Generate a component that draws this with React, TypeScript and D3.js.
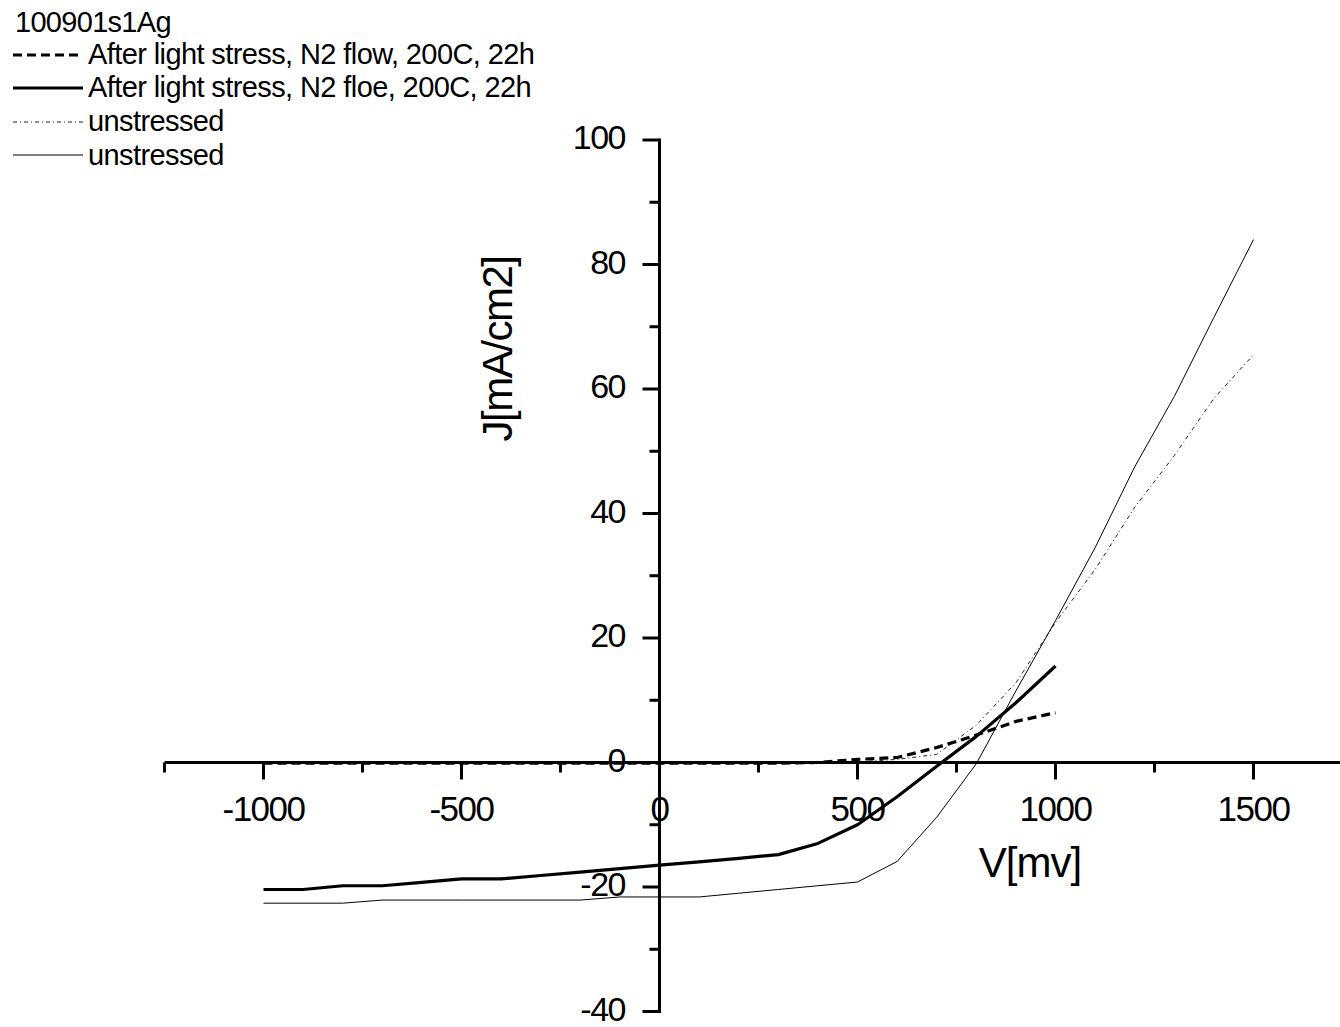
import React from "react";
import * as d3 from "d3";

const voltage = [-1000, -900, -800, -700, -600, -500, -400, -300, -200, -100, 0, 100, 200, 300, 400, 500, 600, 700, 800, 900, 1000, 1100, 1200, 1300, 1400, 1500];

// After light stress, N2 flow (dashed thick) -> -1000..1000
const stressedDarkJ = [-0.1, -0.1, -0.1, -0.1, -0.1, -0.1, -0.1, -0.1, -0.1, -0.1, -0.1, -0.1, -0.1, -0.1, 0, 0.5, 0.8, 2.4, 4.4, 6.6, 8.0];
// After light stress, N2 floe (solid thick) -> -1000..1000
const stressedLightJ = [-20.4, -20.4, -19.8, -19.8, -19.25, -18.7, -18.7, -18.15, -17.6, -17.05, -16.5, -15.95, -15.4, -14.8, -13.0, -10.0, -5.5, -0.6, 4.2, 9.6, 15.5];
// unstressed (dotted thin) -> -1000..1500
const unstressedDarkJ = [0, 0, 0, 0, 0, 0, 0, 0, 0, 0, 0, 0, 0, 0, 0, 0.1, 0.5, 1.3, 6.0, 12.8, 22.5, 31.0, 41.0, 49.3, 58.5, 65.5];
// unstressed (solid thin) -> -1000..1500
const unstressedLightJ = [-22.6, -22.6, -22.6, -22.1, -22.1, -22.1, -22.1, -22.1, -22.1, -21.6, -21.6, -21.6, -21.0, -20.4, -19.8, -19.2, -15.9, -8.8, -0.2, 11.5, 22.8, 34.5, 47.5, 58.8, 71.5, 84.0];

const titleText = "100901s1Ag";
const legendLabels = [
  "After light stress, N2 flow, 200C, 22h",
  "After light stress, N2 floe, 200C, 22h",
  "unstressed",
  "unstressed",
];
const xTickLabels = [-1000, -500, 0, 500, 1000, 1500];
const yTickLabels = [-40, -20, 0, 20, 40, 60, 80, 100];
const xLabel = "V[mv]";
const yLabel = "J[mA/cm2]";

const FONT = "'Liberation Sans', Arial, sans-serif";

export default function App() {
  const W = 1340;
  const H = 1027;
  const x = d3.scaleLinear().domain([0, 1000]).range([659.5, 1055.5]);
  const y = d3.scaleLinear().domain([-40, 100]).range([1011.5, 140]);
  const x0 = x(0);
  const y0 = y(0);

  const mk = (vals: number[]) => vals.map((v, i) => [voltage[i], v] as [number, number]);
  const line = d3
    .line<[number, number]>()
    .x((d) => x(d[0]))
    .y((d) => y(d[1]));

  const series = [
    { data: mk(stressedDarkJ), w: 3.2, dash: "9,5", color: "#000" },
    { data: mk(stressedLightJ), w: 3.2, dash: undefined, color: "#000" },
    { data: mk(unstressedDarkJ), w: 1, dash: "4,3,1,3", color: "#222" },
    { data: mk(unstressedLightJ), w: 1, dash: undefined, color: "#000" },
  ];

  const xMinor = d3.range(-1250, 1501, 250).filter((v) => v % 500 !== 0);
  const yMinor = d3.range(-30, 100, 20);
  const xLeft = x(-1250);

  const legendRowsY = [55, 88, 122, 155];
  const legendBase = [64, 97, 131, 165];

  return (
    <svg
      width={W}
      height={H}
      style={{ position: "absolute", left: 0, top: 0, background: "#fff" }}
      fontFamily={FONT}
    >
      <rect x={0} y={0} width={W} height={H} fill="#fff" />
      {/* title and legend */}
      <text x={15} y={32} fontSize={29} letterSpacing={-0.7}>
        {titleText}
      </text>
      {series.map((s, i) => (
        <g key={i}>
          <line
            x1={13}
            x2={83}
            y1={legendRowsY[i]}
            y2={legendRowsY[i]}
            stroke={s.color}
            strokeWidth={s.w}
            strokeDasharray={s.dash}
          />
          <text x={88} y={legendBase[i]} fontSize={29} letterSpacing={-0.6}>
            {legendLabels[i]}
          </text>
        </g>
      ))}

      {/* series */}
      {series.map((s, i) => (
        <path
          key={"s" + i}
          d={line(s.data) || ""}
          fill="none"
          stroke={s.color}
          strokeWidth={s.w}
          strokeDasharray={s.dash}
          strokeLinejoin="round"
        />
      ))}

      {/* x axis */}
      <line x1={xLeft} x2={W} y1={y0} y2={y0} stroke="#000" strokeWidth={3} />
      {xTickLabels.map((v) => (
        <g key={"xt" + v}>
          <line x1={x(v)} x2={x(v)} y1={y0} y2={y0 + 17} stroke="#000" strokeWidth={3} />
          <text x={x(v)} y={821} fontSize={35} textAnchor="middle" letterSpacing={-1.5}>
            {v}
          </text>
        </g>
      ))}
      {xMinor.map((v) => (
        <line key={"xm" + v} x1={x(v)} x2={x(v)} y1={y0} y2={y0 + 10} stroke="#000" strokeWidth={3} />
      ))}

      {/* y axis */}
      <line x1={x0} x2={x0} y1={y(100) - 1.5} y2={y(-40) + 1.5} stroke="#000" strokeWidth={3} />
      {yTickLabels.map((v) => (
        <g key={"yt" + v}>
          <line x1={x0 - 17} x2={x0} y1={y(v)} y2={y(v)} stroke="#000" strokeWidth={3} />
          <text x={625} y={y(v) + 9} fontSize={34} textAnchor="end" letterSpacing={-1.5}>
            {v}
          </text>
        </g>
      ))}
      {yMinor.map((v) => (
        <line key={"ym" + v} x1={x0 - 10} x2={x0} y1={y(v)} y2={y(v)} stroke="#000" strokeWidth={3} />
      ))}

      {/* axis titles */}
      <text x={1030} y={877} fontSize={42} textAnchor="middle" letterSpacing={-1}>
        {xLabel}
      </text>
      <text
        transform={`translate(512, 349) rotate(-90)`}
        fontSize={42}
        textAnchor="middle"
        letterSpacing={-1.5}
      >
        {yLabel}
      </text>
    </svg>
  );
}
